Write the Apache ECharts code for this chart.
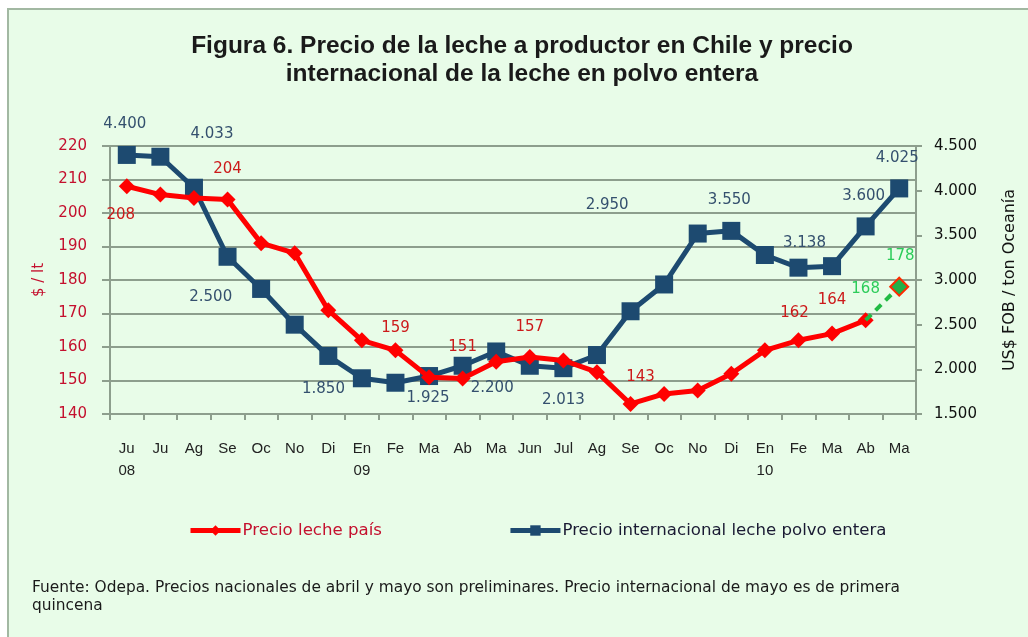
<!DOCTYPE html>
<html>
<head>
<meta charset="utf-8">
<script src="https://cdn.jsdelivr.net/npm/echarts@6/dist/echarts.min.js"></script>
<style>
  html, body { margin: 0; padding: 0; background: #ffffff; }
  #main { width: 1028px; height: 637px; }
</style>
</head>
<body>
<div id="main"></div>
<script>
// categorias (meses)
var meses = ['Ju\n08', 'Ju', 'Ag', 'Se', 'Oc', 'No', 'Di', 'En\n09', 'Fe', 'Ma', 'Ab', 'Ma',
  'Jun', 'Jul', 'Ag', 'Se', 'Oc', 'No', 'Di', 'En\n10', 'Fe', 'Ma', 'Ab', 'Ma'];

// $ / lt
var precioPais = [208, 205.5, 204.5, 204, 191, 188, 171, 162, 159, 151, 150.6, 155.6,
  157, 156, 152.5, 143, 146, 147, 152, 159, 162, 164, 168, null];
// tramo preliminar (abril -> mayo)
var precioPrelim = [null, null, null, null, null, null, null, null, null, null, null, null,
  null, null, null, null, null, null, null, null, null, null, 168, 178];
// US$ FOB / ton Oceania
var precioIntl = [4400, 4380, 4033, 3260, 2900, 2500, 2150, 1900, 1850, 1925, 2040, 2200,
  2040, 2013, 2160, 2650, 2950, 3520, 3550, 3280, 3138, 3155, 3600, 4025];

var ejeIzq = [140, 220, 10];
var ejeDer = [1500, 4500, 500];

// donde van las etiquetas (indice -> desplazamiento respecto al punto)
var etiqPais = { 0: [-6, 29], 3: [0, -30], 8: [0, -22], 10: [0, -31], 12: [0, -30], 15: [10, -27],
  20: [-4, -27], 21: [0, -33] };
var etiqPrelim = { 22: [0, -31], 23: [1, -31] };
var etiqIntl = { 0: [-2, -31], 2: [18, -54], 5: [-84, -28], 8: [-72, 6], 9: [-1, 22], 11: [-4, 37],
  13: [0, 32], 16: [-57, -79], 18: [-2, -31], 20: [6, -25], 22: [-2, -30], 23: [-2, -30] };

function miles(v) {
  return String(Math.round(v)).replace(/\B(?=(\d{3})+(?!\d))/g, '.');
}

function conEtiquetas(arr, etiq, color, fmt) {
  return arr.map(function (v, i) {
    var o = etiq[i];
    return {
      value: v,
      label: o ? {
        show: true, position: 'inside', offset: o, color: color,
        fontFamily: 'DejaVu Sans', fontSize: 15,
        formatter: function (p) { return fmt(p.value); }
      } : { show: false }
    };
  });
}

var grisEje = '#8d9e8d';
var chart = echarts.init(document.getElementById('main'));

var option = {
  backgroundColor: '#ffffff',
  animation: false,
  graphic: [
    {
      type: 'rect', z: -10, silent: true,
      shape: { x: 8, y: 9, width: 1060, height: 660 },
      style: { fill: '#e8fce8', stroke: '#a2b8a2', lineWidth: 2 }
    },
    {
      type: 'text', x: 522, y: 32,
      style: {
        text: 'Figura 6. Precio de la leche a productor en Chile y precio\ninternacional de la leche en polvo entera',
        align: 'center',
        fontFamily: 'Liberation Sans', fontWeight: 'bold', fontSize: 24.5, lineHeight: 28,
        fill: '#1a1a1a'
      }
    },
    {
      type: 'text', left: 32, top: 579,
      style: {
        text: 'Fuente: Odepa. Precios nacionales de abril y mayo son preliminares. Precio internacional de mayo es de primera\nquincena',
        fontFamily: 'DejaVu Sans', fontSize: 15.4, lineHeight: 18, fill: '#1a1a1a'
      }
    }
  ],
  legend: {
    left: 183, top: 517,
    itemWidth: 50, itemHeight: 13, itemGap: 126,
    textStyle: { fontFamily: 'DejaVu Sans', fontSize: 16.6, padding: [0, 0, 0, -3] },
    data: [
      { name: 'Precio leche país', textStyle: { color: '#c4102e' }, lineStyle: { width: 5 } },
      { name: 'Precio internacional leche polvo entera', textStyle: { color: '#1a1a33' }, lineStyle: { width: 5 } }
    ]
  },
  grid: { left: 110, right: 112, top: 146, bottom: 223 },
  xAxis: {
    type: 'category',
    data: meses,
    axisLine: { lineStyle: { color: grisEje, width: 2 } },
    axisTick: { show: true, length: 6, lineStyle: { color: grisEje, width: 2 } },
    axisLabel: {
      interval: 0, margin: 24, fontFamily: 'Liberation Sans', fontSize: 15,
      lineHeight: 22, color: '#222222'
    }
  },
  yAxis: [
    {
      type: 'value', min: ejeIzq[0], max: ejeIzq[1], interval: ejeIzq[2],
      name: '$ / lt', nameLocation: 'middle', nameGap: 63,
      nameTextStyle: { color: '#c4102e', fontFamily: 'DejaVu Sans', fontSize: 15 },
      axisLine: { show: true, lineStyle: { color: grisEje, width: 2 } },
      axisTick: { show: true, length: 8, lineStyle: { color: grisEje, width: 2 } },
      splitLine: { lineStyle: { color: grisEje, width: 2 } },
      axisLabel: { color: '#c4102e', fontFamily: 'DejaVu Sans', fontSize: 15, margin: 23 }
    },
    {
      type: 'value', min: ejeDer[0], max: ejeDer[1], interval: ejeDer[2],
      position: 'right',
      name: 'US$ FOB / ton Oceanía', nameLocation: 'middle', nameGap: 86,
      nameTextStyle: { color: '#111111', fontFamily: 'DejaVu Sans', fontSize: 16 },
      axisLine: { show: true, lineStyle: { color: grisEje, width: 2 } },
      axisTick: { show: true, length: 6, lineStyle: { color: grisEje, width: 2 } },
      splitLine: { show: false },
      axisLabel: {
        color: '#111111', fontFamily: 'DejaVu Sans', fontSize: 15, margin: 18,
        formatter: miles
      }
    }
  ],
  series: [
    {
      name: 'Precio leche país',
      type: 'line', yAxisIndex: 0,
      data: conEtiquetas(precioPais, etiqPais, '#cc1a1a', function (v) { return Math.round(v); }),
      symbol: 'diamond', symbolSize: 16,
      lineStyle: { color: '#ff0000', width: 5 },
      itemStyle: { color: '#ff0000' },
      z: 3
    },
    {
      name: 'Prelim',
      type: 'line', yAxisIndex: 0,
      data: conEtiquetas(precioPrelim, etiqPrelim, '#2ccc5a', function (v) { return Math.round(v); })
        .map(function (d, i) { if (i === 22) d.symbolSize = 0; return d; }),
      symbol: 'diamond', symbolSize: 18,
      lineStyle: { color: '#22bb44', width: 4, type: [8, 6] },
      itemStyle: { color: '#22b04a', borderColor: '#ff2a00', borderWidth: 2 },
      z: 4
    },
    {
      name: 'Precio internacional leche polvo entera',
      type: 'line', yAxisIndex: 1,
      data: conEtiquetas(precioIntl, etiqIntl, '#34506e', miles),
      symbol: 'rect', symbolSize: 18,
      lineStyle: { color: '#1d4a70', width: 5 },
      itemStyle: { color: '#1d4a70' },
      z: 2
    }
  ]
};

chart.setOption(option);
</script>
</body>
</html>
